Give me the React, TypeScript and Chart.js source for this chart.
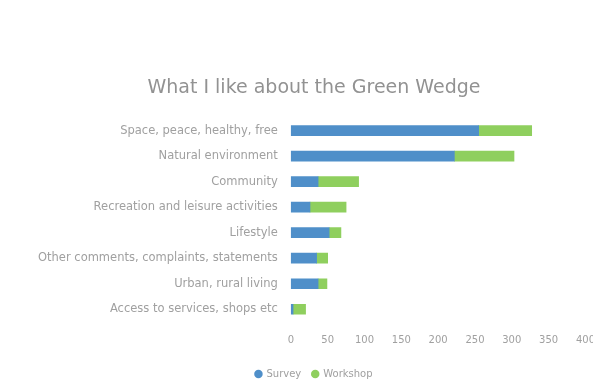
import React, { useEffect, useRef } from "react";
import { Chart, registerables } from "chart.js";

Chart.register(...registerables);

const categories = [
  "Space, peace, healthy, free",
  "Natural environment",
  "Community",
  "Recreation and leisure activities",
  "Lifestyle",
  "Other comments, complaints, statements",
  "Urban, rural living",
  "Access to services, shops etc",
];
const surveyValues = [255, 222, 37, 26, 52, 35, 37, 3];
const workshopValues = [72, 81, 55, 49, 16, 15, 12, 17];
const xTicks = [0, 50, 100, 150, 200, 250, 300, 350, 400];

export default function App() {
  const ref = useRef<HTMLCanvasElement | null>(null);
  useEffect(() => {
    if (!ref.current) return;
    const textColor = "#a0a0a0";
    const font = "DejaVu Sans";
    const chart = new Chart(ref.current, {
      type: "bar",
      data: {
        labels: categories,
        datasets: [
          { label: "Survey", data: surveyValues, backgroundColor: "#4f8fc9", barThickness: 10 },
          { label: "Workshop", data: workshopValues, backgroundColor: "#8fcf5e", barThickness: 10 },
        ],
      },
      options: {
        indexAxis: "y",
        responsive: false,
        animation: false,
        layout: { padding: { top: 10, right: 4, left: 0, bottom: 0 } },
        scales: {
          x: {
            stacked: true,
            min: 0,
            max: 400,
            grid: { display: false, drawTicks: false, tickLength: 0 },
            border: { display: false },
            afterBuildTicks: (axis: any) => {
              axis.ticks = xTicks.map((v) => ({ value: v }));
            },
            ticks: { color: textColor, font: { family: font, size: 10 }, padding: 12 },
          },
          y: {
            stacked: true,
            grid: { display: false, drawTicks: false, tickLength: 0 },
            border: { display: false },
            ticks: { color: textColor, font: { family: font, size: 11.5 }, padding: 13 },
          },
        },
        plugins: {
          title: {
            display: true,
            text: "What I like about the Green Wedge",
            color: "#929292",
            font: { family: font, size: 19, weight: "normal" },
            padding: { top: 0, bottom: 18 },
          },
          legend: {
            position: "bottom",
            labels: {
              color: textColor,
              usePointStyle: true,
              pointStyle: "circle",
              boxWidth: 6,
              boxHeight: 6,
              font: { family: font, size: 10 },
              padding: 11,
            },
          },
          tooltip: { enabled: false },
        },
      },
    });
    return () => chart.destroy();
  }, []);
  return (
    <div style={{ position: "absolute", left: 0, top: 0, width: 593, height: 381, background: "#fff", overflow: "hidden" }}>
      <canvas ref={ref} width={582} height={322} style={{ position: "absolute", left: 25, top: 67 }} />
    </div>
  );
}
